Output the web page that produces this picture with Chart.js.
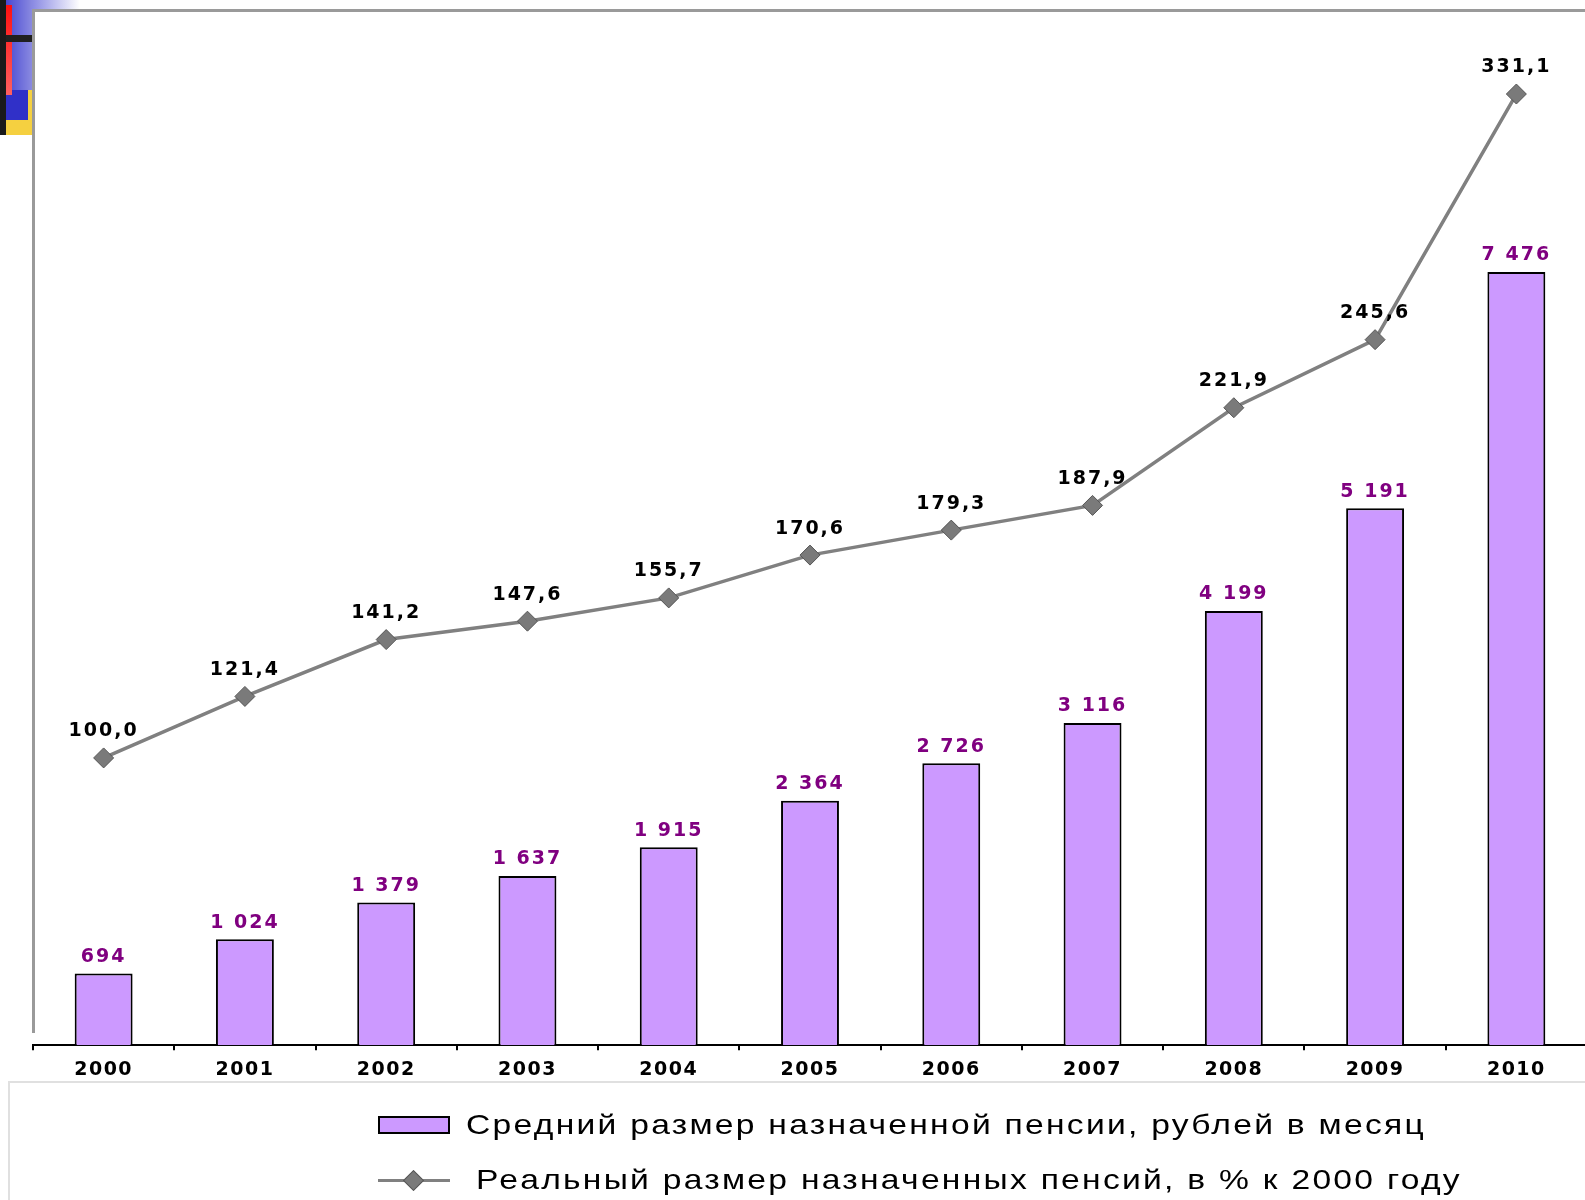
<!DOCTYPE html>
<html>
<head>
<meta charset="utf-8">
<script src="https://cdn.jsdelivr.net/npm/chart.js@4.4.0/dist/chart.umd.min.js"></script>
<style>
  body { margin: 0; background: #fff; width: 1585px; height: 1200px; position: relative; overflow: hidden; }
  .deco { position: absolute; }
  #wrap { position: absolute; left: 0; top: 0; width: 1602px; height: 1096px; }
  #frame { position: absolute; left: 32px; top: 9px; width: 1560px; height: 1021px;
    border-top: 3px solid #9a9a9a; border-left: 3px solid #9a9a9a; pointer-events: none; }
  #legend { position: absolute; left: 8px; top: 1081px; width: 1585px; height: 120px;
    border-top: 2px solid #e0e0e0; border-left: 2px solid #e0e0e0;
    font-family: "Liberation Sans", Arial, sans-serif; font-size: 28px; color: #000; }
  .row { position: absolute; display: flex; align-items: center; }
  .txt { display: inline-block; transform: scaleX(1.2); transform-origin: left center; white-space: nowrap; letter-spacing: 1.9px; }
  .box { width: 68px; height: 14px; background: #CC99FF; border: 2px solid #000; }
  .mk { position: relative; width: 72px; height: 3px; background: #808080; }
  .mk::after { content: ""; position: absolute; left: 28px; top: -6px; width: 13px; height: 13px;
    background: #7a7a7a; border: 1px solid #555; transform: rotate(45deg); }
</style>
</head>
<body>
<div class="deco" style="left:0;top:0;width:80px;height:12px;background:linear-gradient(90deg,#3a3ad0,#fff);"></div>
<div class="deco" style="left:0;top:0;width:32px;height:135px;background:linear-gradient(90deg,#3a3ad0,#8a8ae0);"></div>
<div class="deco" style="left:0;top:90px;width:32px;height:45px;background:#f5d040;"></div>
<div class="deco" style="left:6px;top:90px;width:22px;height:30px;background:#3030c8;"></div>
<div class="deco" style="left:6px;top:5px;width:6px;height:90px;background:linear-gradient(180deg,#ff1010,#ff6060);"></div>
<div class="deco" style="left:0;top:35px;width:32px;height:7px;background:#202020;"></div>
<div class="deco" style="left:0;top:0;width:6px;height:135px;background:#1a1a1a;"></div>

<div id="wrap"><canvas id="myChart"></canvas></div>
<div id="frame"></div>

<div id="legend">
  <div class="row" style="left:368px;top:26px;"><span class="box"></span><span class="txt" style="margin-left:16px;">Средний размер назначенной пенсии, рублей в месяц</span></div>
  <div class="row" style="left:368px;top:81px;"><span class="mk"></span><span class="txt" style="margin-left:26px;">Реальный размер назначенных пенсий, в % к 2000 году</span></div>
</div>

<script>
const years = ['2000', '2001', '2002', '2003', '2004', '2005', '2006', '2007', '2008', '2009', '2010'];
const avgPension = [694, 1024, 1379, 1637, 1915, 2364, 2726, 3116, 4199, 5191, 7476];
const realPension = [100.0, 121.4, 141.2, 147.6, 155.7, 170.6, 179.3, 187.9, 221.9, 245.6, 331.1];

const fmtBar = v => String(v).replace(/\B(?=(\d{3})+(?!\d))/g, ' ');
const fmtLine = v => v.toFixed(1).replace('.', ',');

// wider letter spacing, the original text looks stretched
const spacing = {
  id: 'spacing',
  beforeDraw(chart) {
    chart.ctx.letterSpacing = '1.5px';
  }
};

// value labels above bars and points
const valueLabels = {
  id: 'valueLabels',
  afterDatasetsDraw(chart) {
    const ctx = chart.ctx;
    ctx.save();
    ctx.letterSpacing = '2px';
    ctx.textAlign = 'center';
    ctx.textBaseline = 'bottom';
    ctx.font = 'bold 19px "DejaVu Sans", Verdana, sans-serif';
    chart.getDatasetMeta(1).data.forEach((el, i) => {
      ctx.fillStyle = '#800080';
      ctx.fillText(fmtBar(avgPension[i]), el.x, el.y - 7);
    });
    chart.getDatasetMeta(0).data.forEach((el, i) => {
      ctx.fillStyle = '#000';
      ctx.fillText(fmtLine(realPension[i]), el.x, el.y - 17);
    });
    ctx.restore();
  }
};

const ctx = document.getElementById('myChart').getContext('2d');

new Chart(ctx, {
  type: 'bar',
  data: {
    labels: years,
    datasets: [
      {
        type: 'line',
        label: 'Реальный размер назначенных пенсий, в % к 2000 году',
        data: realPension,
        yAxisID: 'y1',
        borderColor: '#808080',
        borderWidth: 3.5,
        pointStyle: 'rectRot',
        pointRadius: 10,
        pointBackgroundColor: '#7a7a7a',
        pointBorderColor: '#555',
        pointBorderWidth: 1,
        tension: 0,
        order: 0
      },
      {
        label: 'Средний размер назначенной пенсии, рублей в месяц',
        data: avgPension,
        yAxisID: 'y',
        backgroundColor: '#CC99FF',
        borderColor: '#000',
        borderWidth: 2,
        barPercentage: 0.41,
        categoryPercentage: 1,
        order: 1
      }
    ]
  },
  options: {
    responsive: true,
    maintainAspectRatio: false,
    animation: false,
    layout: { padding: { left: 33, right: 15, top: 10, bottom: 7 } },
    plugins: {
      legend: { display: false },
      tooltip: { enabled: false }
    },
    scales: {
      x: {
        ticks: {
          color: '#000',
          padding: 8,
          font: { family: '"DejaVu Sans", Verdana, sans-serif', size: 19, weight: 'bold' }
        },
        grid: {
          drawOnChartArea: false,
          drawTicks: true,
          tickLength: 5,
          color: '#000',
          lineWidth: 2
        },
        border: { color: '#000', width: 2 }
      },
      y: { display: false, min: 0, max: 10000 },
      y1: { display: false, min: 0, max: 360 }
    }
  },
  plugins: [spacing, valueLabels]
});
</script>
</body>
</html>
